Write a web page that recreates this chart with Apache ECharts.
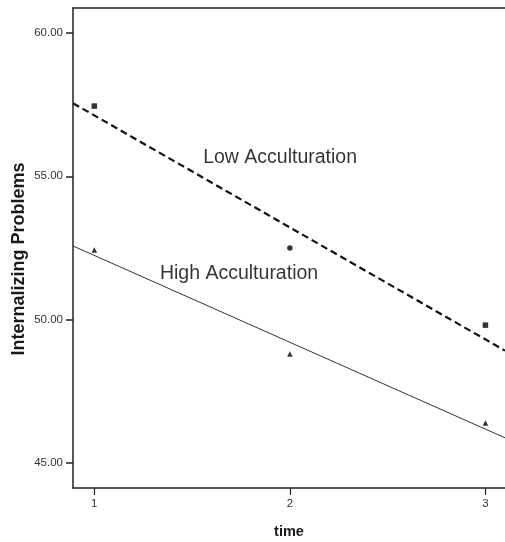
<!DOCTYPE html>
<html><head><meta charset="utf-8">
<script src="https://cdn.jsdelivr.net/npm/echarts@6/dist/echarts.min.js"></script>
<style>html,body{margin:0;padding:0;background:#fff}#c{width:505px;height:542px}</style>
</head><body><div id="c"></div>
<script>
const timeTicks = [1, 2, 3];
const yTicks = [45, 50, 55, 60];
const lowPoints = [[1, 57.45], [2, 52.5], [3, 49.81]];
const lowSymbols = ['rect', 'circle', 'rect'];
const highPoints = [[1, 52.43], [2, 48.8], [3, 46.4]];
const lowFit = [[0.891, 57.55], [3.1, 48.92]];
const highFit = [[0.891, 52.57], [3.1, 45.88]];
const annotations = [
  {name: 'Low Acculturation', value: [1.95, 55.65]},
  {name: 'High Acculturation', value: [1.74, 51.62]}
];

const chart = echarts.init(document.getElementById('c'));
const font = 'Liberation Sans, Arial, sans-serif';
chart.setOption({
  animation: false,
  grid: {left: 73, top: 8, right: 0, bottom: 54, outerBoundsMode: 'none', containLabel: false},
  xAxis: [{
    type: 'value', min: 0.891, max: 3.1,
    name: 'time', nameLocation: 'middle', nameGap: 36, nameMoveOverlap: false,
    nameTextStyle: {fontFamily: font, fontWeight: 'bold', fontSize: 14.5, color: '#1a1a1a'},
    axisLine: {onZero: false, lineStyle: {color: '#222', width: 1.5}},
    axisTick: {show: true, length: 7, inside: false, customValues: timeTicks, lineStyle: {color: '#222', width: 1.2}},
    axisLabel: {customValues: timeTicks, fontFamily: font, fontSize: 11.5, color: '#333', margin: 10},
    splitLine: {show: false}
  }, {
    type: 'value', position: 'top', min: 0.891, max: 3.1,
    axisLine: {show: true, onZero: false, lineStyle: {color: '#222', width: 1.5}},
    axisTick: {show: false}, axisLabel: {show: false}, splitLine: {show: false}
  }],
  yAxis: {
    type: 'value', min: 44.13, max: 60.87,
    name: 'Internalizing Problems', nameLocation: 'middle', nameGap: 45, nameMoveOverlap: false,
    nameTextStyle: {fontFamily: font, fontWeight: 'bold', fontSize: 18, color: '#1a1a1a', padding: [0, 22, 0, 0]},
    axisLine: {show: true, onZero: false, lineStyle: {color: '#222', width: 1.5}},
    axisTick: {show: true, length: 7, customValues: yTicks, lineStyle: {color: '#222', width: 1.5}},
    axisLabel: {customValues: yTicks, formatter: v => v.toFixed(2), fontFamily: font, fontSize: 11.5, color: '#333', margin: 10},
    splitLine: {show: false}
  },
  series: [
    {type: 'line', data: lowFit, symbol: 'none', lineStyle: {color: '#111', width: 2.2, type: [7, 4]}, silent: true},
    {type: 'line', data: highFit, symbol: 'none', lineStyle: {color: '#333', width: 1}, silent: true},
    {type: 'scatter', data: lowPoints.map((p, i) => ({value: p, symbol: lowSymbols[i]})), symbolSize: 5.5, itemStyle: {color: '#000'}},
    {type: 'scatter', data: highPoints, symbol: 'triangle', symbolSize: 5.5, itemStyle: {color: '#000'}},
    {type: 'scatter', data: annotations, symbolSize: 0, itemStyle: {color: '#fff'},
      label: {show: true, position: 'inside', formatter: p => p.name, fontFamily: font, fontSize: 19.5, color: '#000', textBorderWidth: 0, textBorderColor: 'transparent'}}
  ]
});
</script></body></html>
